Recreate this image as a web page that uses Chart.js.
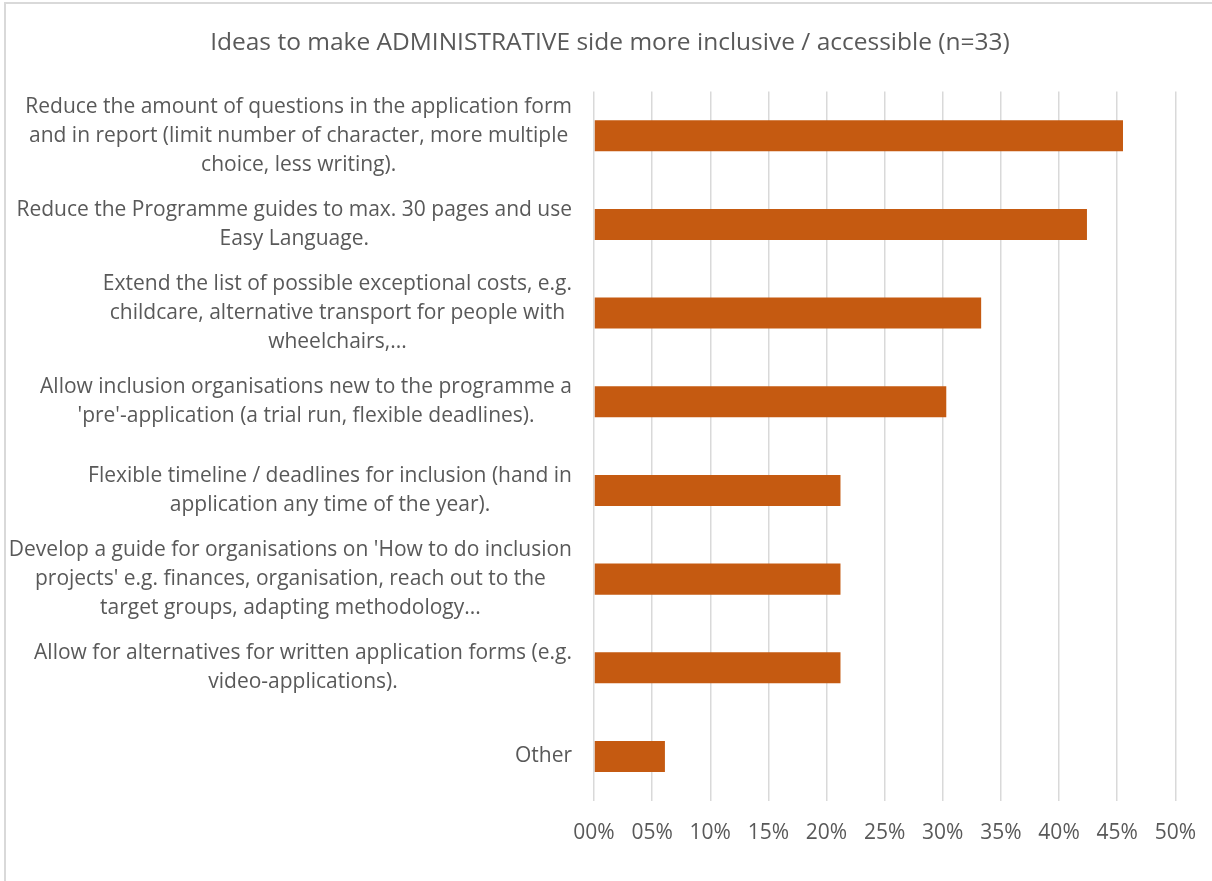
<!DOCTYPE html>
<html>
<head>
<meta charset="utf-8">
<script src="https://cdn.jsdelivr.net/npm/chart.js@4"></script>
<style>
  html, body { margin: 0; padding: 0; background: #fff; overflow: hidden; }
  .frame {
    position: absolute; left: 4px; top: 2px; width: 1220px; height: 890px;
    border-left: 2px solid #d9d9d9; border-top: 2px solid #d9d9d9;
  }
  .wrap { position: absolute; left: 4px; top: 0; width: 1212px; height: 881px; }
</style>
</head>
<body>
<div class="frame"></div>
<div class="wrap"><canvas id="myChart"></canvas></div>
<script>
const chartTitle = 'Ideas to make ADMINISTRATIVE side more inclusive / accessible (n=33)';

// each idea is split into the lines it is shown on
const ideas = [
  ['Reduce the amount of questions in the application form',
   'and in report (limit number of character, more multiple',
   'choice, less writing).'],
  ['Reduce the Programme guides to max. 30 pages and use',
   'Easy Language.'],
  ['Extend the list of possible exceptional costs, e.g.',
   'childcare, alternative transport for people with',
   'wheelchairs,...'],
  ['Allow inclusion organisations new to the programme a',
   "'pre'-application (a trial run, flexible deadlines)."],
  ['Flexible timeline / deadlines for inclusion (hand in',
   'application any time of the year).'],
  ["Develop a guide for organisations on 'How to do inclusion",
   "projects' e.g. finances, organisation, reach out to the",
   'target groups, adapting methodology...'],
  ['Allow for alternatives for written application forms (e.g.',
   'video-applications).'],
  ['Other']
];

// share of respondents, in percent
const shares = [45.5, 42.4, 33.3, 30.3, 21.2, 21.2, 21.2, 6.1];

const xTicks = [0, 5, 10, 15, 20, 25, 30, 35, 40, 45, 50];

const textColor = '#595959';
const fontFamily = '"Open Sans", Lato, sans-serif';
const labelFont = '21px ' + fontFamily;

// category labels: each block sits right next to the axis, its lines centred
const ideaLabels = {
  id: 'ideaLabels',
  afterDraw(chart) {
    const ctx = chart.ctx;
    const yScale = chart.scales.y;
    const rightEdge = chart.chartArea.left - 22;
    const lineH = 29;
    ctx.save();
    ctx.font = labelFont;
    ctx.fillStyle = textColor;
    ctx.textAlign = 'center';
    ctx.textBaseline = 'middle';
    ideas.forEach((lines, i) => {
      const cy = yScale.getPixelForTick(i);
      const w = Math.max(...lines.map(l => ctx.measureText(l).width));
      const cx = rightEdge - w / 2;
      const y0 = cy - (lines.length - 1) * lineH / 2;
      lines.forEach((l, k) => ctx.fillText(l, cx, y0 + k * lineH));
    });
    ctx.restore();
  }
};

const data = {
  labels: ideas.map(l => l.join(' ')),
  datasets: [{
    data: shares,
    backgroundColor: '#c55a11',
    borderWidth: 0,
    barPercentage: 0.35,
    categoryPercentage: 1
  }]
};

const config = {
  type: 'bar',
  data: data,
  plugins: [ideaLabels],
  options: {
    indexAxis: 'y',
    responsive: true,
    maintainAspectRatio: false,
    animation: false,
    layout: { padding: { left: 39, right: 39, top: 0, bottom: 15 } },
    plugins: {
      legend: { display: false },
      tooltip: { enabled: false },
      title: {
        display: true,
        text: chartTitle,
        color: textColor,
        font: { family: fontFamily, size: 24.5, weight: 'normal' },
        padding: { top: 28, bottom: 34 }
      }
    },
    scales: {
      x: {
        min: 0,
        max: 50,
        afterBuildTicks: s => { s.ticks = xTicks.map(v => ({ value: v })); },
        grid: { color: '#d9d9d9', lineWidth: 1.5, drawTicks: false },
        border: { display: false },
        ticks: {
          color: textColor,
          padding: 20,
          font: { family: fontFamily, size: 21 },
          callback: v => String(v).padStart(2, '0') + '%'
        }
      },
      y: {
        grid: { display: false, drawTicks: false },
        border: { display: false },
        ticks: { display: false },
        afterFit: s => { s.width = 551; }
      }
    }
  }
};

const myChart = new Chart(document.getElementById('myChart'), config);
</script>
</body>
</html>
